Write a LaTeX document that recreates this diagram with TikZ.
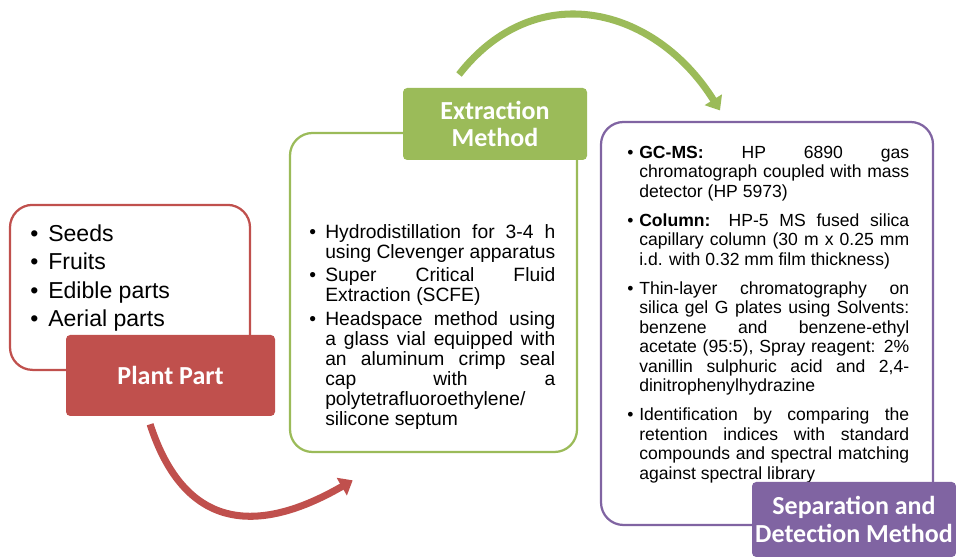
\documentclass[tikz,border=0pt]{standalone}
\usepackage{fontspec}
\setmainfont{Liberation Sans}
\newfontfamily\titlefont{Carlito}
\usetikzlibrary{arrows.meta}
\definecolor{plantred}{HTML}{C0504D}
\definecolor{extrgreen}{HTML}{9BBB59}
\definecolor{seppurple}{HTML}{8064A2}
\newlength\bulind
\newcommand{\bitem}{\par\noindent\hangindent=\bulind\hangafter=1\hbox to\bulind{\textbullet\hfil}}
\tikzset{
    outline/.style={draw=#1, line width=1.6pt, rounded corners=16pt, fill=white, inner sep=0pt},
    titlebox/.style={fill=#1, rounded corners=3pt, text=white, align=center, inner sep=0pt,
        font=\titlefont\bfseries\fontsize{18.5}{19.8}\selectfont},
    flow/.style={draw=#1, line width=5pt, -{Triangle[length=9pt,width=14pt]}},
    listtext/.style={inner sep=0pt, anchor=north west, text width=#1, align=justify}
}
\begin{document}
\begin{tikzpicture}
\useasboundingbox (0,0) rectangle (23.9,13.925);

\node (seedbox) at (3.25,6.74) [outline=plantred, minimum width=6cm, minimum height=4.125cm] {};
\node (seedlist) at (0.75,8.6) [listtext=4.8cm] {\fontsize{16.4}{20.1}\selectfont\setlength\bulind{0.45cm}%
    \bitem Seeds\bitem Fruits\bitem Edible parts\bitem Aerial parts\par};
\node (plant) at (4.2625,4.5375) [titlebox=plantred, minimum width=5.225cm, minimum height=2.025cm] {Plant Part};

\node (extrbox) at (10.8375,6.6125) [outline=extrgreen, minimum width=7.175cm, minimum height=7.975cm] {};
\node (extrlist) at (7.725,8.55) [listtext=6.15cm] {\fontsize{13.7}{14.2}\selectfont\setlength\bulind{0.4cm}\setlength\parskip{2.4pt}%
    \bitem Hydrodistillation for 3-4 h\linebreak using Clevenger apparatus
    \bitem Super Critical Fluid\linebreak Extraction (SCFE)
    \bitem Headspace method using\linebreak a glass vial equipped with\linebreak an aluminum crimp seal\linebreak cap with a\linebreak polytetrafluoroethylene/\newline silicone septum\par};
\node (extr) at (12.375,10.825) [titlebox=extrgreen, minimum width=4.6cm, minimum height=1.8cm] {Extraction\\Method};

\node (sepbox) at (19.175,5.8375) [outline=seppurple, minimum width=8.3cm, minimum height=10.075cm] {};
\node (seplist) at (15.675,10.7) [listtext=7.05cm] {\fontsize{12.5}{13.8}\selectfont\setlength\bulind{0.3cm}\setlength\parskip{7pt}%
    \bitem \textbf{GC-MS:} HP 6890 gas\linebreak chromatograph coupled with mass\linebreak detector (HP 5973)
    \bitem \textbf{Column:} HP-5 MS fused silica\linebreak capillary column (30 m x 0.25 mm\linebreak i.d. with 0.32 mm film thickness)
    \bitem Thin-layer chromatography on\linebreak silica gel G plates using Solvents:\linebreak benzene and benzene-ethyl\linebreak acetate (95:5), Spray reagent: 2\%\linebreak vanillin sulphuric acid and 2,4-\linebreak dinitrophenylhydrazine
    \bitem Identification by comparing the\linebreak retention indices with standard\linebreak compounds and spectral matching\linebreak against spectral library\par};
\node (sep) at (21.35,0.9375) [titlebox=seppurple, minimum width=5.1cm, minimum height=1.875cm] {Separation and\\Detection Method};

\draw[flow=plantred] ([shift={(-0.51,-0.2)}]plant.south) to[out=-72,in=-150,looseness=1.35] ([shift={(-2.02,-0.68)}]extrbox.south);
\draw[flow=extrgreen] ([shift={(-0.9,0.33)}]extr.north) to[out=52,in=122,looseness=1.2] ([shift={(-1.175,0.26)}]sepbox.north);
\end{tikzpicture}
\end{document}
